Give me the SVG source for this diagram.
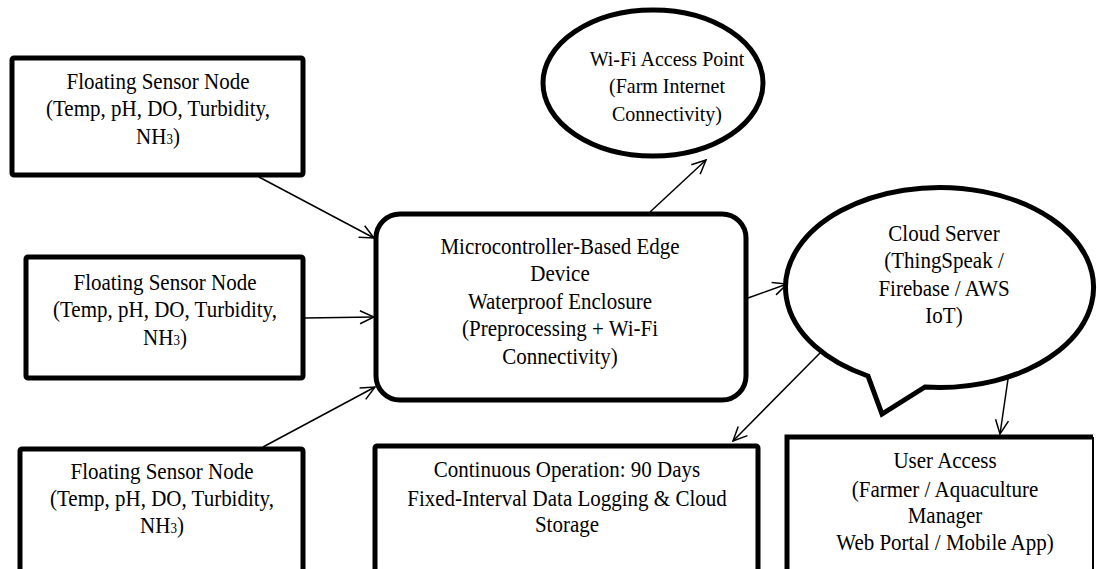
<svg xmlns="http://www.w3.org/2000/svg" width="1097" height="569" viewBox="0 0 1097 569">
<style>
.t{font-family:"Liberation Serif","Times New Roman",serif;font-size:21px;fill:#000;text-anchor:middle}
.box{fill:#fff;stroke:#000;stroke-width:5}
.c{fill:none;stroke:#000;stroke-width:1.5}
.sub{font-size:13px}
</style>
<defs>
<marker id="ah" viewBox="0 0 16 16" refX="15" refY="8" markerWidth="16" markerHeight="16" markerUnits="userSpaceOnUse" orient="auto">
<path d="M1,1.5 L15,8 L1,14.5" fill="none" stroke="#000" stroke-width="1.5"/>
</marker>
</defs>
<rect width="1097" height="569" fill="#fff"/>

<g id="sensor1">
<rect class="box" x="12" y="58" width="291" height="117" rx="2"/>
<text class="t" transform="translate(158,89) scale(1,1.1)"><tspan x="0" y="0">Floating Sensor Node</tspan><tspan x="0" y="25">(Temp, pH, DO, Turbidity,</tspan><tspan x="0" y="50">NH<tspan class="sub">3</tspan>)</tspan></text>
</g>

<g id="sensor2">
<rect class="box" x="26" y="257" width="277" height="121" rx="2"/>
<text class="t" transform="translate(165,290) scale(1,1.1)"><tspan x="0" y="0">Floating Sensor Node</tspan><tspan x="0" y="25">(Temp, pH, DO, Turbidity,</tspan><tspan x="0" y="50">NH<tspan class="sub">3</tspan>)</tspan></text>
</g>

<g id="sensor3">
<rect class="box" x="20" y="449" width="283" height="140" rx="2"/>
<text class="t" transform="translate(162,479) scale(1,1.1)"><tspan x="0" y="0">Floating Sensor Node</tspan><tspan x="0" y="25">(Temp, pH, DO, Turbidity,</tspan><tspan x="0" y="49.5">NH<tspan class="sub">3</tspan>)</tspan></text>
</g>

<g id="edge">
<rect class="box" x="376" y="214" width="370" height="186" rx="24"/>
<text class="t" transform="translate(560,254) scale(1,1.1)"><tspan x="0" y="0">Microcontroller-Based Edge</tspan><tspan x="0" y="25">Device</tspan><tspan x="0" y="50">Waterproof Enclosure</tspan><tspan x="0" y="75">(Preprocessing + Wi-Fi</tspan><tspan x="0" y="100">Connectivity)</tspan></text>
</g>

<g id="wifi">
<ellipse class="box" cx="653" cy="83" rx="110" ry="73"/>
<text class="t" style="font-size:20px" transform="translate(667,66) scale(1,1.1)"><tspan x="0" y="0">Wi-Fi Access Point</tspan><tspan x="0" y="25">(Farm Internet</tspan><tspan x="0" y="50">Connectivity)</tspan></text>
</g>

<g id="cloud">
<path class="box" d="M868,376 L882,414 L925,387 A154,100 0 1 0 868,376 Z"/>
<text class="t" transform="translate(944,241) scale(1,1.1)"><tspan x="0" y="0">Cloud Server</tspan><tspan x="0" y="25">(ThingSpeak /</tspan><tspan x="0" y="50">Firebase / AWS</tspan><tspan x="0" y="75">IoT)</tspan></text>
</g>

<g id="storage">
<rect class="box" x="375" y="446" width="383" height="140" rx="2"/>
<text class="t" transform="translate(567,477) scale(1,1.1)"><tspan x="0" y="0">Continuous Operation: 90 Days</tspan><tspan x="0" y="26">Fixed-Interval Data Logging &amp; Cloud</tspan><tspan x="0" y="50">Storage</tspan></text>
</g>

<g id="user">
<rect x="787" y="437" width="306" height="150" fill="#fff" stroke="none"/>
<path d="M1093,437 L787,437 L787,590" fill="none" stroke="#000" stroke-width="5"/>
<line x1="1093" y1="437" x2="1093" y2="590" stroke="#000" stroke-width="2"/>
<text class="t" transform="translate(945,468) scale(1,1.1)"><tspan x="0" y="0">User Access</tspan><tspan x="0" y="26">(Farmer / Aquaculture</tspan><tspan x="0" y="50">Manager</tspan><tspan x="0" y="75">Web Portal / Mobile App)</tspan></text>
</g>

<g id="connectors">
<line class="c" x1="259" y1="177" x2="374" y2="238" marker-end="url(#ah)"/>
<line class="c" x1="305" y1="318" x2="374" y2="317" marker-end="url(#ah)"/>
<line class="c" x1="263" y1="447" x2="375" y2="387" marker-end="url(#ah)"/>
<line class="c" x1="650" y1="212" x2="706" y2="160" marker-end="url(#ah)"/>
<line class="c" x1="748" y1="298" x2="787" y2="284" marker-end="url(#ah)"/>
<line class="c" x1="822" y1="351" x2="733" y2="441" marker-end="url(#ah)"/>
<line class="c" x1="1008" y1="379" x2="1000" y2="434" marker-end="url(#ah)"/>
</g>
</svg>
